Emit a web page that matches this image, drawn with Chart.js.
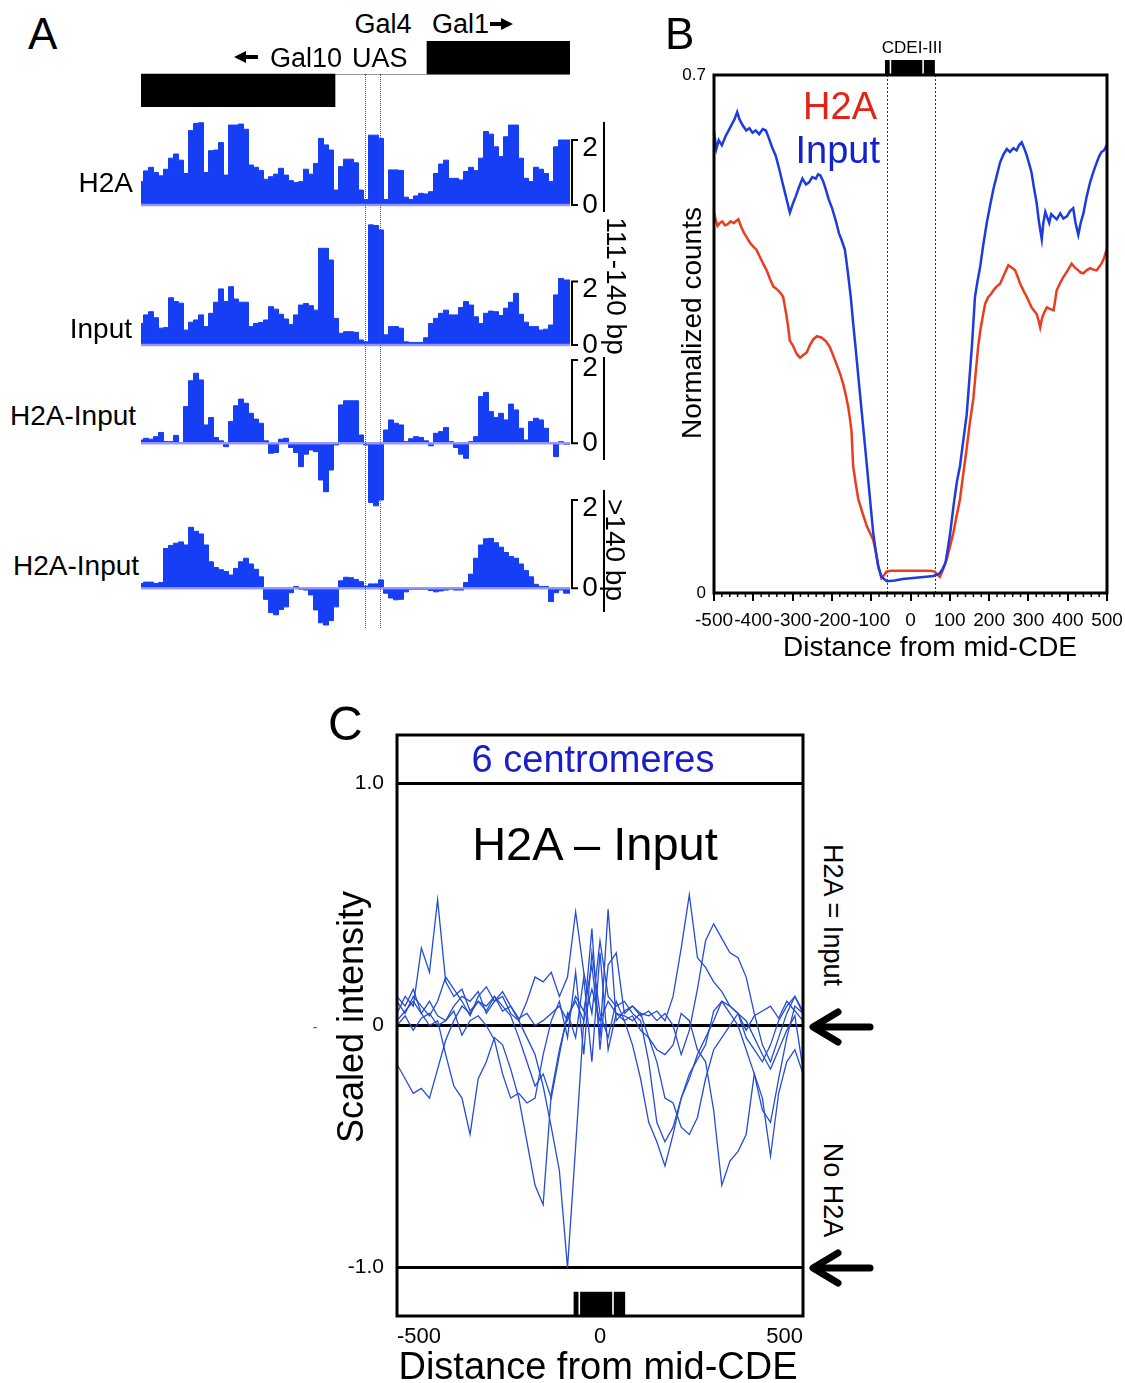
<!DOCTYPE html>
<html>
<head>
<meta charset="utf-8">
<title>H2A occupancy at GAL1-10 and centromeres</title>
<script src="https://cdn.jsdelivr.net/npm/chart.js@4.4.1/dist/chart.umd.min.js"></script>
<style>
  html, body { margin: 0; background: #fff; }
  #fig { position: relative; width: 1125px; height: 1383px; overflow: hidden;
         font-family: "Liberation Sans", Arial, Helvetica, sans-serif; color: #000; }
  #fig canvas { position: absolute; }
  .t { position: absolute; white-space: nowrap; line-height: 1; }
  .rule { position: absolute; background: #000; width: 2px; }
  .dot { position: absolute; width: 0; border-left: 1px dotted #555; }
  #fig svg { position: absolute; left: 0; top: 0; }
</style>
</head>
<body>
<div id="fig"></div>
<script>
// ---------- Panel A: GAL1-10 locus, one bin every 5 positions ----------
const trackPos = [];
for (let p = 0; p <= 425; p += 5) trackPos.push(p);
const trackEnd = 429;

const h2aTrack = [
  0.72, 1.05, 1.16, 1.0, 0.9, 1.1, 1.44, 1.57, 1.38, 0.97,
  2.29, 2.51, 2.53, 1.0, 1.67, 1.69, 1.92, 0.92, 2.46, 2.46,
  2.49, 2.33, 1.23, 1.16, 1.06, 0.79, 0.87, 0.95, 1.13, 0.92,
  0.75, 0.69, 0.72, 1.1, 0.95, 1.28, 2.05, 1.85, 1.69, 0.46,
  1.18, 1.41, 1.41, 1.3, 0.46, 0.17, 2.15, 2.15, 2.05, 0.17,
  1.08, 1.08, 1.06, 0.24, 0.17, 0.28, 0.36, 0.34, 0.41, 0.97,
  1.26, 1.38, 0.82, 0.82, 0.77, 1.03, 1.16, 1.06, 1.44, 2.26,
  2.18, 1.79, 1.49, 2.1, 2.46, 2.46, 1.44, 0.82, 0.72, 1.16,
  1.1, 0.97, 0.72, 1.79, 2.0, 2.0
];
const inputTrack = [
  0.68, 0.95, 1.05, 0.86, 0.53, 0.55, 1.49, 1.37, 1.32, 0.47,
  0.72, 0.79, 0.95, 0.58, 1.0, 1.35, 1.77, 1.37, 1.84, 1.45,
  1.35, 1.35, 0.58, 0.68, 0.71, 0.79, 1.21, 1.13, 0.97, 0.82,
  0.65, 0.95, 1.26, 1.31, 1.24, 1.1, 3.05, 3.05, 2.68, 0.84,
  0.37, 0.42, 0.42, 0.4, 0.16, 0.1, 3.79, 3.77, 3.63, 0.32,
  0.58, 0.58, 0.53, 0.1, 0.08, 0.08, 0.08, 0.23, 0.68, 0.84,
  1.0, 1.1, 0.95, 0.95, 1.18, 1.37, 1.26, 0.89, 0.68, 1.0,
  1.07, 1.05, 0.93, 1.16, 1.35, 1.63, 0.97, 0.72, 0.58, 0.58,
  0.47, 0.5, 0.63, 1.58, 2.1, 2.05
];
// H2A minus Input, 111-140 bp fragments
const diffShort = [
  0.08, 0.12, 0.1, 0.16, 0.26, 0.04, 0.04, 0.19, 0.02, 0.88,
  1.5, 1.68, 1.52, 0.44, 0.62, 0.14, 0.06, -0.08, 0.52, 0.9,
  1.06, 0.96, 0.72, 0.58, 0.48, 0.06, -0.24, -0.22, 0.1, 0.12,
  -0.1, -0.22, -0.56, -0.26, -0.16, -0.2, -0.88, -1.16, -0.64, -0.04,
  0.92, 1.02, 1.02, 1.02, 0.2, -0.04, -1.42, -1.5, -1.36, 0.32,
  0.56, 0.48, 0.44, 0.04, 0.11, 0.16, 0.14, 0.06, -0.06, 0.24,
  0.28, 0.38, 0.04, -0.1, -0.26, -0.36, 0.04, 0.16, 1.12, 1.22,
  0.76, 0.62, 0.72, 0.56, 0.94, 0.8, 0.36, 0.08, 0.52, 0.6,
  0.56, 0.36, 0, -0.32, 0.04, -0.02
];
// H2A minus Input, >140 bp fragments
const diffLong = [
  0.11, 0.14, 0.14, 0.11, 0.13, 0.9, 0.97, 1.02, 1.05, 0.98,
  1.38, 1.29, 1.23, 0.98, 0.6, 0.47, 0.42, 0.38, 0.3, 0.45,
  0.6, 0.68, 0.55, 0.43, 0.26, -0.25, -0.55, -0.6, -0.48, -0.42,
  -0.1, 0.04, -0.02, -0.04, -0.15, -0.49, -0.78, -0.83, -0.73, -0.42,
  0.17, 0.25, 0.24, 0.2, 0.15, 0.05, 0.1, 0.1, 0.19, -0.11,
  -0.22, -0.26, -0.25, -0.08, -0.02, -0.02, -0.02, -0.02, -0.05, -0.08,
  -0.06, -0.04, -0.02, -0.04, -0.04, 0.13, 0.32, 0.68, 0.98, 1.12,
  1.13, 1.03, 0.93, 0.81, 0.72, 0.68, 0.55, 0.4, 0.26, 0.09,
  0.04, 0.04, -0.3, -0.1, -0.04, -0.11
];
const genes = ['Gal1', 'Gal10'];
const geneSpans = [[286, 429], [0, 194]];
const uasBounds = [224, 239];

// ---------- Panel B: average profile around the centromere ----------
const inputProfile = [
  [-500,0.623],[-494,0.600],[-488,0.612],[-480,0.605],[-470,0.618],[-458,0.630],[-448,0.640],[-441,0.650],
  [-435,0.640],[-427,0.632],[-418,0.625],[-410,0.628],[-402,0.622],[-394,0.625],[-385,0.620],[-376,0.627],
  [-368,0.625],[-360,0.614],[-352,0.602],[-343,0.591],[-335,0.575],[-326,0.555],[-319,0.540],[-313,0.527],
  [-307,0.514],[-300,0.525],[-292,0.536],[-284,0.548],[-275,0.560],[-266,0.552],[-258,0.555],[-250,0.562],
  [-241,0.560],[-235,0.566],[-229,0.564],[-222,0.556],[-216,0.546],[-208,0.532],[-199,0.519],[-190,0.503],
  [-182,0.486],[-176,0.478],[-167,0.464],[-161,0.440],[-158,0.427],[-152,0.400],[-146,0.365],[-140,0.333],
  [-128,0.266],[-120,0.222],[-111,0.172],[-103,0.127],[-95,0.082],[-88,0.055],[-82,0.036],[-74,0.022],
  [-65,0.018],[-60,0.016],[-40,0.017],[-20,0.019],[0,0.020],[20,0.021],[40,0.022],[58,0.023],
  [68,0.025],[75,0.027],[82,0.033],[89,0.041],[95,0.060],[101,0.081],[110,0.120],[118,0.150],
  [126,0.172],[134,0.205],[143,0.241],[150,0.290],[156,0.332],[160,0.365],[164,0.400],[170,0.420],
  [177,0.440],[185,0.470],[194,0.500],[203,0.525],[211,0.546],[220,0.565],[228,0.582],[236,0.592],
  [245,0.600],[253,0.596],[262,0.601],[270,0.598],[276,0.605],[283,0.609],[290,0.600],[296,0.591],
  [302,0.580],[308,0.568],[314,0.548],[321,0.527],[326,0.505],[330,0.491],[334,0.478],[338,0.500],
  [343,0.515],[347,0.509],[353,0.500],[358,0.512],[364,0.509],[372,0.505],[381,0.513],[389,0.506],
  [398,0.509],[406,0.516],[414,0.520],[420,0.500],[427,0.484],[433,0.500],[440,0.513],[448,0.535],
  [457,0.555],[466,0.570],[474,0.582],[480,0.590],[486,0.596],[492,0.598],[499,0.605]
];
const h2aProfile = [
  [-500,0.514],[-496,0.505],[-491,0.496],[-485,0.500],[-479,0.502],[-472,0.497],[-466,0.498],[-458,0.502],
  [-449,0.500],[-443,0.503],[-438,0.505],[-431,0.495],[-424,0.487],[-416,0.480],[-408,0.473],[-400,0.468],
  [-392,0.464],[-384,0.455],[-375,0.445],[-366,0.436],[-358,0.425],[-349,0.414],[-343,0.412],[-337,0.409],
  [-330,0.405],[-324,0.400],[-319,0.385],[-315,0.373],[-311,0.358],[-307,0.341],[-300,0.335],[-294,0.328],
  [-288,0.322],[-281,0.318],[-272,0.322],[-264,0.325],[-256,0.335],[-247,0.343],[-238,0.347],[-232,0.346],
  [-226,0.345],[-215,0.340],[-205,0.332],[-196,0.320],[-188,0.309],[-179,0.296],[-171,0.282],[-164,0.266],
  [-158,0.250],[-154,0.235],[-150,0.218],[-148,0.195],[-146,0.172],[-140,0.150],[-133,0.127],[-122,0.108],
  [-111,0.090],[-103,0.081],[-95,0.072],[-88,0.055],[-82,0.036],[-74,0.020],[-66,0.025],[-61,0.029],
  [-50,0.030],[-25,0.030],[0,0.030],[25,0.030],[50,0.030],[62,0.029],[68,0.025],[75,0.022],
  [83,0.032],[92,0.045],[100,0.062],[109,0.081],[117,0.103],[126,0.127],[134,0.160],[143,0.195],
  [151,0.230],[160,0.263],[166,0.298],[172,0.332],[178,0.356],[185,0.377],[190,0.391],[198,0.400],
  [205,0.404],[211,0.409],[219,0.414],[228,0.418],[238,0.430],[249,0.443],[257,0.440],[266,0.436],
  [273,0.427],[279,0.418],[288,0.408],[296,0.400],[302,0.393],[308,0.386],[315,0.381],[321,0.377],
  [326,0.368],[330,0.359],[335,0.372],[341,0.380],[347,0.386],[355,0.384],[364,0.382],[368,0.395],
  [372,0.409],[380,0.418],[389,0.427],[400,0.436],[410,0.445],[418,0.440],[427,0.436],[433,0.433],
  [440,0.432],[448,0.436],[457,0.439],[465,0.437],[474,0.436],[480,0.441],[486,0.445],[492,0.452],[499,0.464]
];
const cdeParts = [[-65, -53], [-49, 30], [34, 62]];
const cdeEdges = [-60, 62];

// ---------- Panel C: H2A - Input at six centromeres ----------
const cPos = [-500, -480, -460, -440, -420, -400, -380, -360, -340, -320, -300, -280, -260, -240, -220, -200,
  -180, -160, -140, -120, -100, -80, -60, -40, -20, 0, 20, 40, 60, 80, 100, 120, 140, 160, 180, 200,
  220, 240, 260, 280, 300, 320, 340, 360, 380, 400, 420, 440, 460, 480, 500];
const centromere1 = [0.05, 0.12, 0.08, 0.32, 0.22, 0.52, 0.18, 0.12, 0.15, 0.06, 0.10, 0.08, 0.12, 0.06, 0.08, 0.03,
  0.05, 0.00, 0.02, 0.05, 0.08, 0.02, 0.12, 0.06, 0.25, -0.05, 0.48, 0.02, 0.06, 0.08, 0.05, 0.04, 0.06, 0.02, 0.12, 0.32,
  0.54, 0.28, 0.24, 0.18, 0.14, 0.08, 0.05, -0.02, 0.04, 0.06, 0.08, 0.03, 0.10, 0.06, 0.02];
const centromere2 = [0.02, 0.06, 0.10, 0.05, 0.00, 0.02, -0.12, -0.25, -0.30, -0.45, -0.22, -0.15, -0.05, -0.08, -0.18, -0.30,
  -0.48, -0.66, -0.74, -0.28, -0.10, 0.04, 0.10, 0.02, 0.15, 0.02, 0.10, 0.05, 0.02, -0.08, -0.22, -0.40, -0.48, -0.58, -0.45, -0.30,
  -0.22, -0.12, -0.05, 0.02, 0.10, 0.08, 0.05, -0.05, -0.10, -0.15, -0.08, 0.02, 0.08, 0.12, 0.05];
const centromere3 = [-0.16, -0.22, -0.28, -0.26, -0.30, -0.18, -0.06, 0.02, 0.08, 0.05, 0.10, 0.06, 0.12, 0.08, 0.04, -0.05,
  -0.15, -0.25, -0.20, -0.30, -0.12, 0.05, -0.05, 0.20, -0.15, 0.30, -0.10, 0.05, 0.04, 0.02, 0.05, -0.05, -0.10, -0.12, -0.08, 0.05,
  0.02, -0.10, -0.15, -0.35, -0.66, -0.56, -0.52, -0.45, -0.20, -0.30, -0.54, -0.28, -0.15, -0.10, -0.20];
const centromere4 = [0.10, 0.05, 0.12, 0.08, 0.04, 0.10, 0.20, 0.15, 0.10, 0.04, 0.12, 0.16, 0.10, 0.14, 0.08, 0.02,
  -0.05, -0.12, -0.25, -0.42, -0.60, -1.00, -0.50, 0.02, 0.40, -0.10, 0.25, 0.30, 0.05, 0.08, 0.04, 0.06, 0.02, 0.05, 0.00, -0.12,
  -0.02, 0.15, 0.35, 0.42, 0.36, 0.30, 0.28, 0.20, 0.05, -0.08, -0.15, -0.05, 0.05, 0.12, 0.06];
const centromere5 = [0.12, 0.08, 0.15, 0.05, 0.10, 0.04, 0.02, 0.08, 0.12, 0.10, 0.14, 0.05, 0.10, 0.12, 0.05, 0.02,
  0.10, 0.20, 0.18, 0.22, 0.12, 0.20, 0.47, 0.22, 0.05, 0.35, 0.12, 0.08, 0.10, 0.05, 0.02, -0.15, -0.40, -0.48, -0.42, -0.30,
  -0.20, -0.14, -0.08, 0.06, 0.10, 0.05, 0.00, -0.10, -0.20, -0.35, -0.40, -0.22, -0.05, 0.08, 0.05];
const centromere6 = [0.00, 0.04, -0.02, 0.03, 0.05, 0.00, 0.02, 0.06, -0.04, 0.02, 0.04, 0.00, -0.06, -0.20, -0.30, -0.28,
  -0.32, -0.30, -0.12, 0.02, 0.10, -0.05, 0.22, -0.12, 0.30, 0.05, -0.05, 0.10, 0.02, 0.04, -0.02, -0.05, -0.15, -0.30, -0.32, -0.42,
  -0.45, -0.38, -0.22, -0.10, -0.05, 0.00, 0.05, 0.02, -0.05, -0.12, -0.18, -0.10, -0.02, 0.04, -0.18];

// ---------- helpers ----------
const fig = document.getElementById('fig');
const FONT = '"Liberation Sans", Arial, sans-serif';
const TRACK_BLUE = 'rgb(22, 62, 245)';
const LINE_BLUE = 'rgb(36, 76, 214)';
Chart.defaults.font.family = FONT;
Chart.defaults.color = '#000';

function addCanvas(left, top, w, h) {
  const c = document.createElement('canvas');
  c.width = w; c.height = h;
  c.style.left = left + 'px'; c.style.top = top + 'px';
  c.style.width = w + 'px'; c.style.height = h + 'px';
  fig.appendChild(c);
  return c;
}

function txt(s, x, y, o = {}) {
  const d = document.createElement('div');
  d.className = 't';
  d.textContent = s;
  d.style.fontSize = (o.size || 28) + 'px';
  if (o.color) d.style.color = o.color;
  d.style.left = x + 'px';
  d.style.top = y + 'px';
  const ax = o.align === 'left' ? '0' : o.align === 'right' ? '-100%' : '-50%';
  d.style.transform = `translate(${ax}, -50%)` + (o.rot ? ` rotate(${o.rot}deg)` : '');
  fig.appendChild(d);
}

function rule(x, y1, y2) {
  const d = document.createElement('div');
  d.className = 'rule';
  d.style.left = x + 'px'; d.style.top = y1 + 'px'; d.style.height = (y2 - y1) + 'px';
  fig.appendChild(d);
}

const baseOpts = { responsive: false, animation: false, devicePixelRatio: 1 };

// zero line plus the "[ 2 / 0" scale bar at the right end of a track
const trackScalePlugin = {
  id: 'trackScale',
  afterDatasetsDraw(chart) {
    const { ctx, chartArea: a, scales: { y } } = chart;
    const y0 = y.getPixelForValue(0), y2 = y.getPixelForValue(2);
    ctx.save();
    ctx.strokeStyle = 'rgba(150, 150, 255, 0.95)';
    ctx.lineWidth = 2.5;
    ctx.beginPath(); ctx.moveTo(a.left, y0); ctx.lineTo(a.right, y0); ctx.stroke();
    const bx = a.right + 2;
    ctx.strokeStyle = '#000';
    ctx.lineWidth = 2;
    ctx.beginPath();
    ctx.moveTo(bx + 6, y2); ctx.lineTo(bx, y2); ctx.lineTo(bx, y0); ctx.lineTo(bx + 6, y0);
    ctx.stroke();
    ctx.fillStyle = '#000';
    ctx.font = '28px ' + FONT;
    ctx.textAlign = 'center';
    ctx.textBaseline = 'middle';
    ctx.fillText('2', a.right + 20, y2 + 8);
    ctx.fillText('0', a.right + 20, y0);
    ctx.restore();
  }
};

function trackChart(values, top, bottom, base, perUnit) {
  const canvas = addCanvas(141, top, 469, bottom - top);
  const pts = trackPos.map((p, i) => ({ x: p, y: values[i] }));
  pts.push({ x: trackEnd, y: values[values.length - 1] });
  return new Chart(canvas, {
    type: 'line',
    data: { datasets: [{ data: pts, stepped: 'middle', fill: 'origin', backgroundColor: TRACK_BLUE,
      borderColor: TRACK_BLUE, borderWidth: 1, pointRadius: 0 }] },
    options: { ...baseOpts,
      layout: { padding: { right: 40 } },
      plugins: { legend: { display: false }, tooltip: { enabled: false } },
      scales: {
        x: { type: 'linear', display: false, min: 0, max: trackEnd },
        y: { display: false, min: -(bottom - base) / perUnit, max: (base - top) / perUnit }
      }
    },
    plugins: [trackScalePlugin]
  });
}

// gene bodies: floating bars on two rows
const geneLinePlugin = {
  id: 'geneLine',
  beforeDatasetsDraw(chart) {
    const { ctx, chartArea: a } = chart;
    const mid = Math.round((a.top + a.bottom) / 2) + 0.5;
    ctx.save();
    ctx.strokeStyle = '#999'; ctx.lineWidth = 1;
    ctx.beginPath(); ctx.moveTo(a.left, mid); ctx.lineTo(a.right, mid); ctx.stroke();
    ctx.restore();
  }
};
const geneChart = new Chart(addCanvas(141, 41, 429, 66), {
  type: 'bar',
  data: { labels: genes, datasets: [{ data: geneSpans, backgroundColor: '#000', barPercentage: 1, categoryPercentage: 1 }] },
  options: { ...baseOpts, indexAxis: 'y',
    plugins: { legend: { display: false }, tooltip: { enabled: false } },
    scales: { x: { type: 'linear', display: false, min: 0, max: trackEnd }, y: { display: false } }
  },
  plugins: [geneLinePlugin]
});

trackChart(h2aTrack, 100, 225, 205, 32.5);
trackChart(inputTrack, 215, 365, 345, 31.7);
trackChart(diffShort, 340, 520, 443.3, 41.7);
trackChart(diffLong, 480, 635, 588.3, 44.2);

uasBounds.forEach(v => {
  const d = document.createElement('div');
  d.className = 'dot';
  d.style.left = (141 + geneChart.scales.x.getPixelForValue(v)) + 'px';
  d.style.top = '74px';
  d.style.height = '554px';
  fig.appendChild(d);
});

// ---------- shared frame / CDE box ----------
const framePlugin = {
  id: 'frame',
  afterDraw(chart, args, opts) {
    const { ctx, chartArea: a, scales: { x, y } } = chart;
    ctx.save();
    ctx.fillStyle = '#000';
    const yTop = opts.cde === 'above' ? a.top - 15 : y.getPixelForValue(-1.1);
    const yBot = opts.cde === 'above' ? a.top : a.bottom;
    cdeParts.forEach(([s, e]) => {
      const x1 = x.getPixelForValue(s), x2 = x.getPixelForValue(e);
      ctx.fillRect(x1, yTop, x2 - x1, yBot - yTop);
    });
    ctx.strokeStyle = '#000';
    ctx.lineWidth = 3;
    ctx.strokeRect(a.left, a.top, a.width, a.height);
    ctx.restore();
  }
};

// CDE edges (dotted) and minor x ticks for the profile plot
const profileExtras = {
  id: 'profileExtras',
  beforeDatasetsDraw(chart) {
    const { ctx, chartArea: a, scales: { x } } = chart;
    ctx.save();
    ctx.strokeStyle = '#333'; ctx.lineWidth = 1; ctx.setLineDash([2, 2]);
    cdeEdges.forEach(v => {
      const px = Math.round(x.getPixelForValue(v)) + 0.5;
      ctx.beginPath(); ctx.moveTo(px, a.top); ctx.lineTo(px, a.bottom); ctx.stroke();
    });
    ctx.restore();
  },
  afterDraw(chart) {
    const { ctx, chartArea: a, scales: { x } } = chart;
    ctx.save();
    ctx.strokeStyle = '#000'; ctx.lineWidth = 1.5;
    for (let v = -480; v < 500; v += 20) {
      if (v % 100 === 0) continue;
      const px = x.getPixelForValue(v);
      ctx.beginPath(); ctx.moveTo(px, a.bottom); ctx.lineTo(px, a.bottom + 4); ctx.stroke();
    }
    ctx.restore();
  }
};

const toXY = arr => arr.map(([x, y]) => ({ x, y }));

new Chart(addCanvas(660, 40, 480, 630), {
  type: 'line',
  data: { datasets: [
    { label: 'Input', data: toXY(inputProfile), borderColor: 'rgb(30, 60, 222)', borderWidth: 2.5, pointRadius: 0 },
    { label: 'H2A', data: toXY(h2aProfile), borderColor: 'rgb(232, 62, 30)', borderWidth: 2.5, pointRadius: 0 }
  ] },
  options: { ...baseOpts,
    layout: { padding: { top: 35, right: 33 } },
    plugins: { legend: { display: false }, tooltip: { enabled: false }, frame: { cde: 'above' } },
    scales: {
      x: { type: 'linear', min: -500, max: 500,
        afterFit: s => { s.height = 77; },
        ticks: { stepSize: 100, autoSkip: false, maxRotation: 0, font: { size: 19 }, padding: 8, callback: v => String(v) },
        grid: { drawOnChartArea: false, tickLength: 8, color: '#000', lineWidth: 2 },
        border: { display: false } },
      y: { min: 0, max: 0.7,
        afterFit: s => { s.width = 54; },
        afterBuildTicks: s => { s.ticks = [{ value: 0 }, { value: 0.7 }]; },
        ticks: { font: { size: 17 }, padding: 8, callback: v => (v === 0 ? '0' : v.toFixed(1)) },
        grid: { display: false, drawTicks: false },
        border: { display: false } }
    }
  },
  plugins: [profileExtras, framePlugin]
});

const cSeries = [centromere1, centromere2, centromere3, centromere4, centromere5, centromere6];
new Chart(addCanvas(320, 709, 494, 651), {
  type: 'line',
  data: { datasets: cSeries.map((vals, i) => ({
    label: 'CEN ' + (i + 1),
    data: cPos.map((x, j) => ({ x, y: vals[j] })),
    borderColor: LINE_BLUE, borderWidth: 1.3, pointRadius: 0
  })) },
  options: { ...baseOpts,
    layout: { padding: { top: 26, right: 11 } },
    plugins: { legend: { display: false }, tooltip: { enabled: false }, frame: { cde: 'below' } },
    scales: {
      x: { type: 'linear', min: -500, max: 500,
        afterFit: s => { s.height = 44; },
        afterBuildTicks: s => { s.ticks = [{ value: -500 }, { value: 0 }, { value: 500 }]; },
        ticks: { align: 'inner', autoSkip: false, maxRotation: 0, font: { size: 22 }, padding: 8, callback: v => String(v) },
        grid: { display: false, drawTicks: false },
        border: { display: false } },
      y: { min: -1.2, max: 1.2,
        afterFit: s => { s.width = 77; },
        afterBuildTicks: s => { s.ticks = [{ value: -1 }, { value: 0 }, { value: 1 }]; },
        ticks: { font: { size: 21 }, padding: 13, callback: v => (v === 0 ? '0' : v.toFixed(1)) },
        grid: { color: '#000', lineWidth: 3, drawTicks: false },
        border: { display: false } }
    }
  },
  plugins: [framePlugin]
});

// ---------- text ----------
txt('A', 28, 34, { size: 44, align: 'left' });
txt('Gal4', 383, 24, { size: 27 });
txt('Gal1', 432, 24, { size: 27, align: 'left' });
txt('Gal10', 270, 58, { size: 27, align: 'left' });
txt('UAS', 352, 58, { size: 27, align: 'left' });
txt('H2A', 133, 183, { align: 'right' });
txt('Input', 132, 329, { align: 'right' });
txt('H2A-Input', 10, 416, { align: 'left' });
txt('H2A-Input', 13, 566, { align: 'left' });
txt('111-140 bp', 616, 286, { rot: 90 });
txt('>140 bp', 615, 550, { rot: 90 });
rule(603, 122, 212);
rule(603, 357, 460);
rule(603, 490, 612);

txt('B', 665, 34, { size: 44, align: 'left' });
txt('CDEI-III', 912, 47, { size: 17 });
txt('H2A', 877, 106, { size: 38, align: 'right', color: 'rgb(225, 35, 25)' });
txt('Input', 880, 150, { size: 38, align: 'right', color: 'rgb(20, 35, 200)' });
txt('Normalized counts', 692, 323, { rot: -90 });
txt('Distance from mid-CDE', 930, 647);

txt('C', 328, 724, { size: 48, align: 'left' });
txt('6 centromeres', 593, 759, { size: 38, color: 'rgb(25, 30, 200)' });
txt('H2A \u2013 Input', 595, 843, { size: 47 });
txt('Scaled intensity', 351, 1017, { size: 36, rot: -90 });
txt('Distance from mid-CDE', 598, 1366, { size: 38 });
txt('H2A = Input', 832, 915, { size: 27, rot: 90 });
txt('No H2A', 832, 1190, { size: 27, rot: 90 });
txt('-', 315, 1027, { size: 14, color: '#555' });

// arrows
const svgNS = 'http://www.w3.org/2000/svg';
const svg = document.createElementNS(svgNS, 'svg');
svg.setAttribute('width', 1125); svg.setAttribute('height', 1383);
svg.innerHTML = `
  <path d="M234 57 L246 51 L246 55 L258 55 L258 59 L246 59 L246 63 Z" fill="#000"/>
  <path d="M513 24 L501 18 L501 22 L490 22 L490 26 L501 26 L501 30 Z" fill="#000"/>
  <g stroke="#000" stroke-width="7" fill="none" stroke-linecap="round" stroke-linejoin="round">
    <polyline points="838,1012 813,1027 838,1042"/><line x1="815" y1="1027" x2="870" y2="1027"/>
    <polyline points="838,1253 813,1268 838,1283"/><line x1="815" y1="1268" x2="870" y2="1268"/>
  </g>`;
fig.appendChild(svg);
</script>
</body>
</html>
